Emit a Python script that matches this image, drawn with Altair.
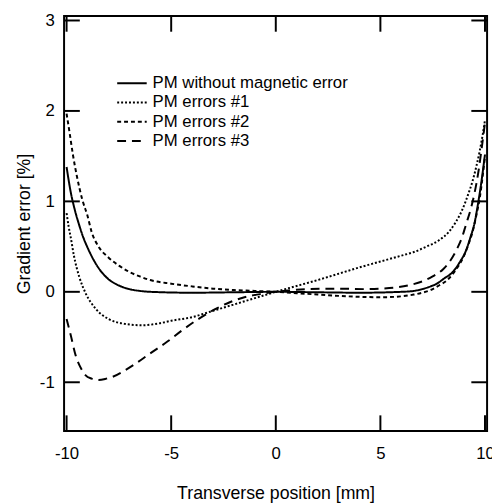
import altair as alt
import pandas as pd

# ---- data ----
series_names = ["PM without magnetic error", "PM errors #1", "PM errors #2", "PM errors #3"]

x_solid = [-10, -9.8, -9.6, -9.4, -9.2, -9.0, -8.7, -8.4, -8.0, -7.5, -7.0, -6.5, -6.0, -4.0, -2.0, 0,
           2.0, 4.0, 6.0, 6.6, 7.0, 7.4, 7.7, 8.0, 8.5, 8.8, 9.1, 9.3, 9.5, 9.65, 9.8, 10]
y_solid = [1.38, 1.10, 0.90, 0.74, 0.60, 0.49, 0.35, 0.24, 0.14, 0.07, 0.03, 0.01, 0.0, -0.01, -0.005, 0,
           -0.005, -0.01, 0.0, 0.01, 0.03, 0.06, 0.09, 0.14, 0.23, 0.33, 0.46, 0.60, 0.76, 0.95, 1.17, 1.52]

x_e1 = [-10, -9.9, -9.8, -9.65, -9.4, -9.1, -8.6, -8.0, -7.2, -6.4, -5.6, -5.0, -4.0, -3.0, -2.0, -1.0, 0,
        1.0, 2.0, 3.0, 4.0, 5.0, 6.0, 6.6, 7.2, 7.8, 8.3, 8.6, 8.9, 9.2, 9.4, 9.6, 9.75, 9.9, 10]
y_e1 = [0.87, 0.72, 0.60, 0.40, 0.17, -0.01, -0.19, -0.30, -0.355, -0.37, -0.35, -0.32, -0.28, -0.21, -0.14, -0.07, 0,
        0.065, 0.13, 0.20, 0.27, 0.335, 0.40, 0.44, 0.50, 0.57, 0.67, 0.77, 0.90, 1.08, 1.22, 1.40, 1.56, 1.75, 1.90]

x_e2 = [-10, -9.85, -9.7, -9.5, -9.25, -9.0, -8.8, -8.5, -8.0, -7.5, -7.0, -6.5, -6.0, -5.0, -4.0, -3.0, -2.0, -1.0, 0,
        1.0, 2.0, 3.0, 4.0, 5.0, 6.0, 6.6, 7.0, 7.4, 7.8, 8.2, 8.5, 8.8, 9.0, 9.2, 9.4, 9.6, 9.75, 9.9, 10]
y_e2 = [1.97, 1.75, 1.52, 1.27, 1.02, 0.84, 0.66, 0.51, 0.38, 0.29, 0.22, 0.17, 0.13, 0.09, 0.06, 0.035, 0.02, 0.01, 0,
        -0.015, -0.03, -0.045, -0.055, -0.06, -0.05, -0.03, -0.01, 0.02, 0.07, 0.13, 0.21, 0.31, 0.40, 0.52, 0.66, 0.86, 1.04, 1.30, 1.50]

x_e3 = [-10, -9.8, -9.57, -9.3, -9.1, -8.8, -8.47, -8.1, -7.8, -7.3, -6.74, -6.0, -5.18, -4.5, -3.76, -2.8, -2.2, -1.5, -0.6, 0,
        0.6, 1.5, 3.0, 4.2, 5.0, 5.8, 6.5, 7.06, 7.5, 8.0, 8.3, 8.63, 8.9, 9.1, 9.3, 9.49, 9.7, 9.85, 10]
y_e3 = [-0.30, -0.48, -0.70, -0.85, -0.92, -0.96, -0.975, -0.96, -0.94, -0.88, -0.80, -0.68, -0.55, -0.43, -0.31, -0.18, -0.115, -0.06, -0.02, 0,
        0.015, 0.03, 0.035, 0.03, 0.035, 0.05, 0.08, 0.12, 0.17, 0.25, 0.33, 0.46, 0.60, 0.75, 0.90, 1.08, 1.35, 1.60, 1.87]

x_ticks = [-10, -5, 0, 5, 10]
y_ticks = [-1, 0, 1, 2, 3]

# ---- build table ----
rows = []
for name, xs, ys in zip(series_names, [x_solid, x_e1, x_e2, x_e3], [y_solid, y_e1, y_e2, y_e3]):
    for i, (a, b) in enumerate(zip(xs, ys)):
        rows.append({"series": name, "x": a, "y": b, "order": i})
df = pd.DataFrame(rows)

W, H = 430, 422
TICK = 16
FONT = "Liberation Sans"
LBL = "datum.value < 0 ? '-' + abs(datum.value) : '' + datum.value"

xscale = alt.Scale(domain=[-10.12, 10.1], nice=False, zero=False)
yscale = alt.Scale(domain=[-1.54, 3.05], nice=False, zero=False)

lines = alt.Chart(df).mark_line(color="black", strokeWidth=2, interpolate="monotone", clip=True).encode(
    x=alt.X("x:Q", scale=xscale,
            axis=alt.Axis(values=x_ticks, labelExpr=LBL, title="Transverse position [mm]", ticks=False,
                          domain=False, grid=False, labelFontSize=17, labelPadding=15, titleFontSize=18,
                          titleFontWeight="normal", titlePadding=24, labelFont=FONT, titleFont=FONT,
                          labelColor="black", titleColor="black", labelFlush=False)),
    y=alt.Y("y:Q", scale=yscale,
            axis=alt.Axis(values=y_ticks, labelExpr=LBL, title="Gradient error [%]", ticks=False,
                          domain=False, grid=False, labelFontSize=17, labelPadding=10, titleFontSize=18,
                          titleFontWeight="normal", titlePadding=6, labelFont=FONT, titleFont=FONT,
                          labelColor="black", titleColor="black", labelFlush=False)),
    strokeDash=alt.StrokeDash("series:N",
                              scale=alt.Scale(domain=series_names, range=[[1, 0], [2, 2], [4, 3], [9, 6]]),
                              legend=alt.Legend(title=None, orient="none", legendX=53, legendY=60,
                                                symbolType="stroke", symbolSize=900, symbolStrokeWidth=2,
                                                symbolStrokeColor="black", labelFontSize=17, labelFont=FONT,
                                                labelColor="black", labelOffset=5, labelLimit=400,
                                                clipHeight=17, rowPadding=1.5)),
    order="order:Q",
)

xt = pd.DataFrame({"t": x_ticks})
yt = pd.DataFrame({"t": y_ticks})

tick_b = alt.Chart(xt).mark_rule(color="black", strokeWidth=2).encode(
    x=alt.X("t:Q", scale=xscale), y=alt.value(H), y2=alt.value(H - TICK))
tick_t = alt.Chart(xt).mark_rule(color="black", strokeWidth=2).encode(
    x=alt.X("t:Q", scale=xscale), y=alt.value(0), y2=alt.value(TICK))
tick_l = alt.Chart(yt).mark_rule(color="black", strokeWidth=2).encode(
    y=alt.Y("t:Q", scale=yscale), x=alt.value(0), x2=alt.value(TICK))
tick_r = alt.Chart(yt).mark_rule(color="black", strokeWidth=2).encode(
    y=alt.Y("t:Q", scale=yscale), x=alt.value(W - TICK), x2=alt.value(W))

chart = alt.layer(lines, tick_b, tick_t, tick_l, tick_r).properties(
    width=W, height=H,
    autosize=alt.AutoSizeParams(type="none"),
    padding={"left": 57, "top": 4, "right": 5, "bottom": 70},
    background="white",
).configure_view(stroke="black", strokeWidth=2)

chart.save("out.html", embed_options={"renderer": "svg", "actions": False})
